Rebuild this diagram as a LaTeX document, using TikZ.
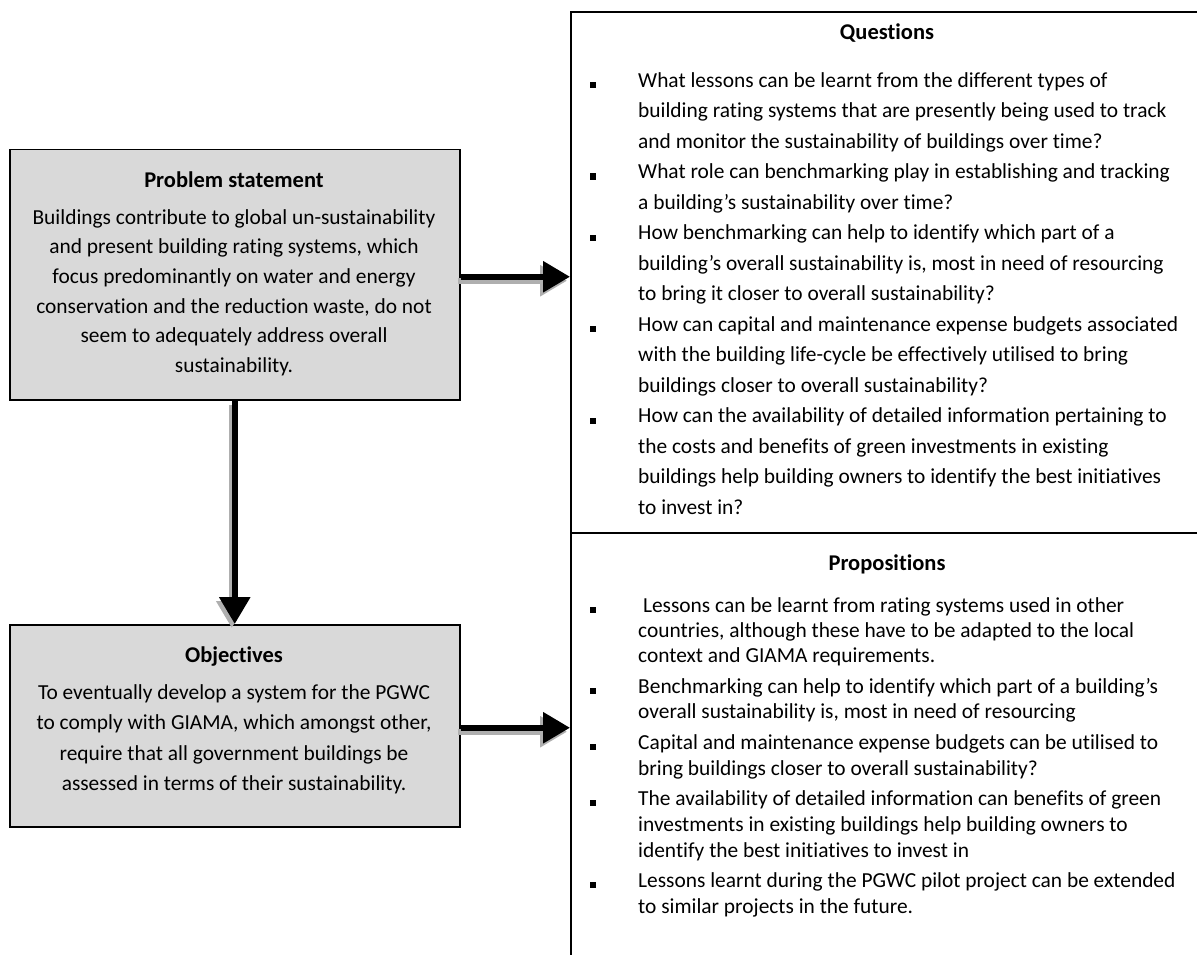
\documentclass[tikz,border=0pt]{standalone}
\usepackage{fontspec}
\setmainfont{Carlito}[Ligatures=NoCommon]
\usetikzlibrary{arrows.meta}
\definecolor{boxgray}{RGB}{217,217,217}
\definecolor{shadowgray}{RGB}{175,175,175}
\begin{document}
\begin{tikzpicture}[x=1pt,y=-1pt,
  body/.style={font=\fontsize{21.4}{25}\selectfont, inner sep=0pt},
  ttl/.style={font=\fontsize{22.5}{27}\selectfont\bfseries, inner sep=0pt},
  graybox/.style={draw=black, line width=1.5pt, fill=boxgray, inner sep=0pt, anchor=north west},
  panel/.style={draw=black, line width=2pt, inner sep=0pt, anchor=north west},
  sq/.style={fill=black, minimum size=6pt, inner sep=0pt},
  tip/.style={-{Triangle[length=27pt,width=30pt]}},
  flow/.style={line width=6pt, tip,
    preaction={draw=shadowgray, line width=6pt, tip,
      transform canvas={shift={(-3pt,-4pt)}}}}]
\useasboundingbox (0,0) rectangle (1197,955);
\clip (0,0) rectangle (1197,955);

% left column boxes
\node[graybox, minimum width=450pt, minimum height=250pt] (prob) at (9,149) {};
\node[graybox, minimum width=450pt, minimum height=202pt] (obj) at (9,624) {};

% right column panels (run past the page edge)
\node[panel, minimum width=660pt, minimum height=521pt] (qbox) at (570,11) {};
\node[panel, minimum width=660pt, minimum height=450pt] (pbox) at (570,532) {};

% problem statement text
\node[ttl, anchor=mid] (probT) at (234,185) {Problem statement};
\foreach \y/\t [count=\i] in {
  222/{Buildings contribute to global un-sustainability},
  251.6/{and present building rating systems, which},
  281.2/{focus predominantly on water and energy},
  310.8/{conservation and the reduction waste, do not},
  340.4/{seem to adequately address overall},
  370/{sustainability.}}
  \node[body, anchor=mid] (probL\i) at (234,\y) {\t};

% objectives text
\node[ttl, anchor=mid] (objT) at (234,660) {Objectives};
\foreach \y/\t [count=\i] in {
  697/{To eventually develop a system for the PGWC},
  727.5/{to comply with GIAMA, which amongst other,},
  758/{require that all government buildings be},
  788.5/{assessed in terms of their sustainability.}}
  \node[body, anchor=mid] (objL\i) at (234,\y) {\t};

% questions
\node[ttl, anchor=mid] (qT) at (887,37) {Questions};
\foreach \y/\t [count=\i] in {
  85/{What lessons can be learnt from the different types of},
  115.5/{building rating systems that are presently being used to track},
  146/{and monitor the sustainability of buildings over time?},
  176.5/{What role can benchmarking play in establishing and tracking},
  207/{a building’s sustainability over time?},
  237.5/{How benchmarking can help to identify which part of a},
  268/{building’s overall sustainability is, most in need of resourcing},
  298.5/{to bring it closer to overall sustainability?},
  329/{How can capital and maintenance expense budgets associated},
  359.5/{with the building life-cycle be effectively utilised to bring},
  390/{buildings closer to overall sustainability?},
  420.5/{How can the availability of detailed information pertaining to},
  451/{the costs and benefits of green investments in existing},
  481.5/{buildings help building owners to identify the best initiatives},
  512/{to invest in?}}
  \node[body, anchor=mid west] (qL\i) at (638,\y) {\t};
\foreach \y [count=\i] in {85,176.5,237.5,329,420.5}
  \node[sq] (qB\i) at (593,\y) {};

% propositions
\node[ttl, anchor=mid] (pT) at (887,568) {Propositions};
\foreach \y/\t [count=\i] in {
  610/{\ Lessons can be learnt from rating systems used in other},
  635/{countries, although these have to be adapted to the local},
  660/{context and GIAMA requirements.},
  691/{Benchmarking can help to identify which part of a building’s},
  716/{overall sustainability is, most in need of resourcing},
  747/{Capital and maintenance expense budgets can be utilised to},
  773/{bring buildings closer to overall sustainability?},
  803/{The availability of detailed information can benefits of green},
  829/{investments in existing buildings help building owners to},
  855/{identify the best initiatives to invest in},
  885/{Lessons learnt during the PGWC pilot project can be extended},
  911/{to similar projects in the future.}}
  \node[body, anchor=mid west] (pL\i) at (638,\y) {\t};
\foreach \y [count=\i] in {610,691,747,803,885}
  \node[sq] (pB\i) at (593,\y) {};

% connectors
\coordinate (a1) at ([yshift=-2pt]prob.east);
\coordinate (a2) at ([yshift=-2pt]obj.east);
\draw[flow] (a1) -- (a1 -| qbox.west);
\draw[flow] (prob.south) -- (obj.north);
\draw[flow] (a2) -- (a2 -| pbox.west);
\end{tikzpicture}
\end{document}
